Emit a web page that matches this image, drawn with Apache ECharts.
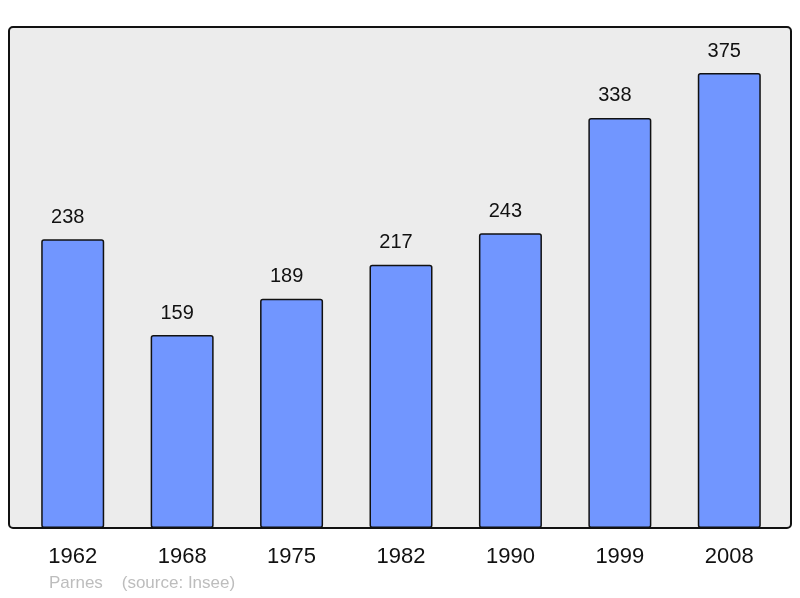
<!DOCTYPE html>
<html>
<head>
<meta charset="utf-8">
<script src="https://cdn.jsdelivr.net/npm/echarts@6/dist/echarts.min.js"></script>
<style>
  html,body{margin:0;padding:0;background:#fff;}
  #chart{width:800px;height:598px;}
</style>
</head>
<body>
<div id="chart"></div>
<script>
// ==================== DATA ====================
const years=['1962','1968','1975','1982','1990','1999','2008'];
const population=[238,159,189,217,243,338,375];
const footerText='Parnes    (source: Insee)';

const chart=echarts.init(document.getElementById('chart'));
const font='"Liberation Sans", Arial, sans-serif';

chart.setOption({
  backgroundColor:'#fff',
  animation:false,
  grid:{left:18,right:16,top:27,bottom:70},
  graphic:[
    {type:'rect',z:-1,shape:{x:9,y:27,width:782,height:501,r:4},
     style:{fill:'#ececec',stroke:'#111',lineWidth:2}},
    {type:'text',left:49,top:575,
     style:{text:footerText,fill:'#bdbdbd',font:'17px '+font}}
  ],
  xAxis:{type:'category',data:years,
    axisLine:{show:false},axisTick:{show:false},
    axisLabel:{color:'#111',fontSize:22,fontFamily:font,margin:18}},
  yAxis:{type:'value',min:0,max:413,show:false,splitLine:{show:false}},
  series:[{
    type:'bar',data:population,barWidth:63,
    itemStyle:{color:'#7196ff',borderColor:'#111',borderWidth:1.5,borderRadius:2},
    label:{show:true,position:'top',distance:12,offset:[-5,0],color:'#111',fontSize:20,fontFamily:font}
  }]
});
</script>
</body>
</html>
